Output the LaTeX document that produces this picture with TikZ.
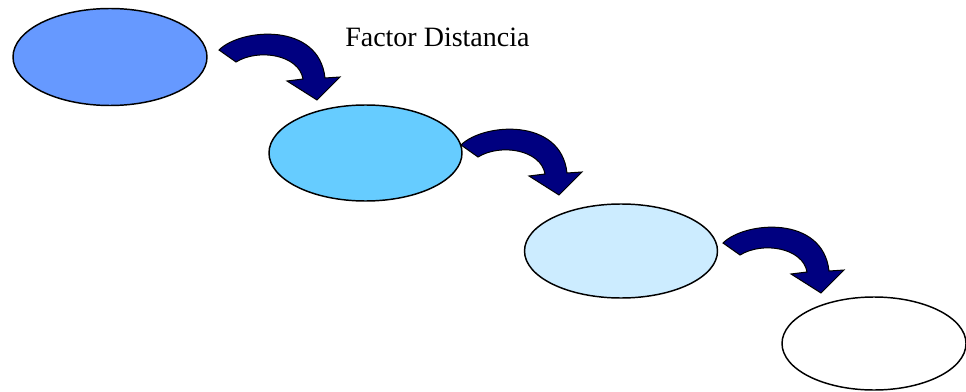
\documentclass[tikz,border=0pt]{standalone}
\usepackage{fontspec}
\setmainfont{Liberation Serif}
\definecolor{ovalblue}{RGB}{102, 153, 255}
\definecolor{ovalsky}{RGB}{102, 204, 255}
\definecolor{ovalpale}{RGB}{204, 236, 255}
\definecolor{arrownavy}{RGB}{0, 0, 128}
\usetikzlibrary{
    shapes.geometric,
    positioning
}

\begin{document}
\begin{tikzpicture}[x=0.75pt, y=-0.75pt,
    oval/.style={ellipse, draw=black, line width=1.1pt, inner sep=0pt,
        minimum width=144.75pt, minimum height=72pt},
    bendarrow/.pic={
        \filldraw[fill=arrownavy, draw=black, line width=0.75pt, line join=miter]
            (0,0) .. controls (22,-22) and (100,-28) .. (106,28)
            -- (121,27) -- (98,50) -- (68,31) -- (84,29)
            .. controls (80,5) and (40,-2) .. (17,12) -- cycle;
    }]
    \useasboundingbox (0,0) rectangle (966,392);
    \clip (0,0) rectangle (966,392);

    % Ovals
    \node[oval, fill=ovalblue, minimum width=145.5pt, minimum height=72.75pt] (stepone) at (110,57) {};
    \node[oval, fill=ovalsky] (steptwo) at (365.5,153) {};
    \node[oval, fill=ovalpale, minimum height=70.5pt] (stepthree) at (621,251) {};
    \node[oval, fill=white, minimum width=138pt, minimum height=69.75pt] (stepfour) at (874,343.5) {};

    % Arrows
    \pic at (219,50) {bendarrow};
    \pic at (461,145) {bendarrow};
    \pic at (723,243) {bendarrow};

    % Label
    \node[anchor=base west, inner sep=0pt, font=\fontsize{21}{25}\selectfont] (factor) at (345,47) {Factor Distancia};
\end{tikzpicture}
\end{document}
